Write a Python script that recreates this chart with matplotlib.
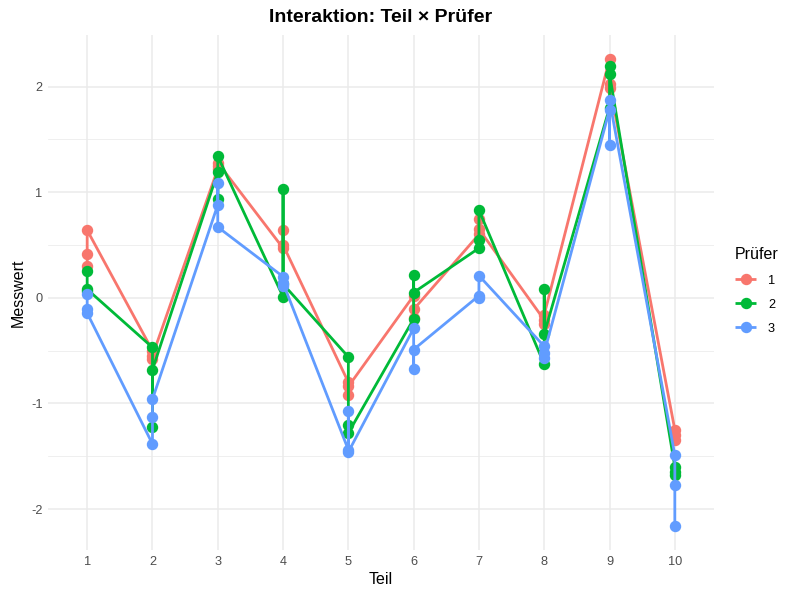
import matplotlib.pyplot as plt
import numpy as np
from matplotlib.ticker import MultipleLocator

plt.rcParams['font.family'] = ['Liberation Sans', 'DejaVu Sans']

teile = [1, 2, 3, 4, 5, 6, 7, 8, 9, 10]
pruefer = ['1', '2', '3']

# Messwerte je Teil, 3 Wiederholungen in Datenreihenfolge
mess_p1 = [[0.30, 0.41, 0.64], [-0.50, -0.58, -0.55], [1.22, 1.25, 1.28], [0.47, 0.64, 0.50],
           [-0.80, -0.92, -0.84], [0.02, -0.19, -0.11], [0.60, 0.75, 0.65], [-0.21, -0.25, -0.16],
           [2.26, 1.99, 2.02], [-1.25, -1.30, -1.35]]
mess_p2 = [[0.25, 0.06, 0.08], [-0.47, -1.22, -0.68], [1.19, 0.94, 1.34], [0.01, 1.03, 0.13],
           [-0.56, -1.20, -1.28], [-0.20, 0.22, 0.05], [0.47, 0.55, 0.83], [-0.63, 0.08, -0.34],
           [1.80, 2.19, 2.12], [-1.60, -1.65, -1.68]]
mess_p3 = [[0.04, -0.11, -0.145], [-1.384, -1.13, -0.96], [0.88, 1.09, 0.67], [0.20, 0.11, 0.14],
           [-1.44, -1.07, -1.46], [-0.29, -0.67, -0.49], [0.02, 0.00, 0.21], [-0.46, -0.57, -0.52],
           [1.78, 1.45, 1.87], [-1.49, -1.77, -2.16]]

colors = ['#F8766D', '#00BA38', '#619CFF']

fig = plt.figure(figsize=(8, 6), dpi=100)
ax = fig.add_axes([0.06, 0.083, 0.8325, 0.859])

handles = []
for i, mess in enumerate([mess_p1, mess_p2, mess_p3]):
    xs = np.repeat(teile, 3)
    ys = np.array(mess).flatten()
    h, = ax.plot(xs, ys, color=colors[i], lw=2.0, marker='o', ms=7.2,
                 solid_capstyle='butt', zorder=2 + i, label=pruefer[i])
    handles.append(h)

ax.set_xlim(0.4, 10.6)
ax.set_ylim(-2.39, 2.49)
ax.set_xticks(teile)
ax.yaxis.set_minor_locator(MultipleLocator(0.5))
ax.set_yticks([-2, -1, 0, 1, 2])
ax.set_yticklabels(['-2', '-1', '0', '1', '2'])

ax.grid(True, which='major', color='#EBEBEB', lw=1.1, zorder=0)
ax.grid(True, which='minor', axis='y', color='#EBEBEB', lw=0.55, zorder=0)
ax.set_axisbelow(True)
for s in ax.spines.values():
    s.set_visible(False)
ax.tick_params(which='both', length=0, labelsize=9.2, labelcolor='#4D4D4D', pad=4)

ax.set_xlabel('Teil', fontsize=11.5, labelpad=3)
ax.set_ylabel('Messwert', fontsize=11.5, labelpad=4)
ax.set_title('Interaktion: Teil × Prüfer', fontsize=14, fontweight='bold', pad=9)

leg = fig.legend(handles=handles, title='Prüfer', loc='center left',
                 bbox_to_anchor=(0.912, 0.515), frameon=False, fontsize=9.2,
                 title_fontsize=11.5, handlelength=1.7, labelspacing=0.95,
                 handletextpad=0.9, borderaxespad=0)
leg._legend_box.align = 'left'
leg._legend_box.sep = 9

fig.savefig('out.png', dpi=100)
